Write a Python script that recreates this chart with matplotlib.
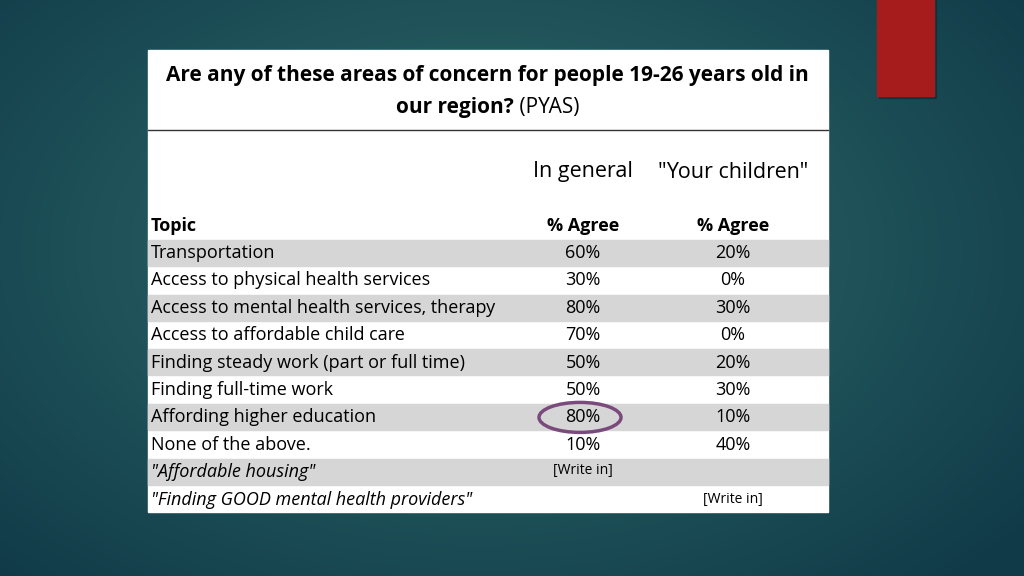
import numpy as np
import matplotlib.pyplot as plt
from matplotlib.patches import Rectangle, Ellipse

title1 = "Are any of these areas of concern for people 19-26 years old in"
title2_bold = "our region?"
title2_rest = " (PYAS)"
col_heads = ["In general", "\"Your children\""]
topics = ["Transportation", "Access to physical health services",
          "Access to mental health services, therapy", "Access to affordable child care",
          "Finding steady work (part or full time)", "Finding full-time work",
          "Affording higher education", "None of the above.",
          "\"Affordable housing\"", "\"Finding GOOD mental health providers\""]
general = ["60%", "30%", "80%", "70%", "50%", "50%", "80%", "10%", "[Write in]", ""]
children = ["20%", "0%", "30%", "0%", "20%", "30%", "10%", "40%", "", "[Write in]"]

W, H = 1024, 576
fig = plt.figure(figsize=(W / 100, H / 100), dpi=100)
ax = fig.add_axes([0, 0, 1, 1])
ax.set_xlim(0, W)
ax.set_ylim(H, 0)
ax.axis("off")

# radial teal background
yy, xx = np.mgrid[0:H, 0:W]
r = np.sqrt(((xx - 480) / 700) ** 2 + ((yy - 250) / 450) ** 2)
r = np.clip(r, 0, 1)
c0 = np.array([0x30, 0x6e, 0x6c]) / 255
c1 = np.array([0x10, 0x3a, 0x48]) / 255
img = c0[None, None, :] * (1 - r[..., None]) + c1[None, None, :] * r[..., None]
ax.imshow(img, extent=[0, W, H, 0], zorder=0)

# red tab
ax.add_patch(Rectangle((879, 0), 57, 98, color="#0a2a30", alpha=0.5, zorder=1))
ax.add_patch(Rectangle((877, 0), 57, 96, color="#a61b1b", zorder=2))

# white panel
ax.add_patch(Rectangle((148, 50), 680, 462, color="white", zorder=2))
ax.plot([148, 828], [130, 130], color="#333333", lw=1, zorder=3)

font = "Open Sans"
ts = 15
ax.text(487, 75, title1, ha="center", va="center", fontsize=ts, fontweight="bold", family=font, zorder=4)
ax.text(514, 108, title2_bold, ha="right", va="center", fontsize=ts, fontweight="bold", family=font, zorder=4)
ax.text(514, 108, title2_rest, ha="left", va="center", fontsize=ts, family=font, zorder=4)

ax.text(583, 172, col_heads[0], ha="center", va="center", fontsize=15.5, family=font, zorder=4)
ax.text(733, 172, col_heads[1], ha="center", va="center", fontsize=15.5, family=font, zorder=4)

bs = 13
ax.text(151, 226, "Topic", ha="left", va="center", fontsize=bs, fontweight="bold", family=font, zorder=4)
ax.text(583, 226, "% Agree", ha="center", va="center", fontsize=bs, fontweight="bold", family=font, zorder=4)
ax.text(733, 226, "% Agree", ha="center", va="center", fontsize=bs, fontweight="bold", family=font, zorder=4)

y0, dy = 253, 27.4
for i, (tp, g, c) in enumerate(zip(topics, general, children)):
    y = y0 + i * dy
    if i % 2 == 0:
        ax.add_patch(Rectangle((148, y - dy / 2 + 0.5), 680, dy - 1.5, color="#d6d6d6", zorder=3))
    italic = "italic" if i >= 8 else "normal"
    ax.text(151, y, tp, ha="left", va="center", fontsize=bs, style=italic, family=font, zorder=4)
    gs = 10 if g.startswith("[") else bs
    cs = 10 if c.startswith("[") else bs
    ax.text(583, y - (2 if g.startswith("[") else 0), g, ha="center", va="center", fontsize=gs, family=font, zorder=4)
    ax.text(733, y, c, ha="center", va="center", fontsize=cs, family=font, zorder=4)

ax.add_patch(Ellipse((580, y0 + 6 * dy), 82, 30, fill=False, ec="#7a4a7c", lw=2.5, zorder=5))

fig.savefig("out.png", dpi=100)
